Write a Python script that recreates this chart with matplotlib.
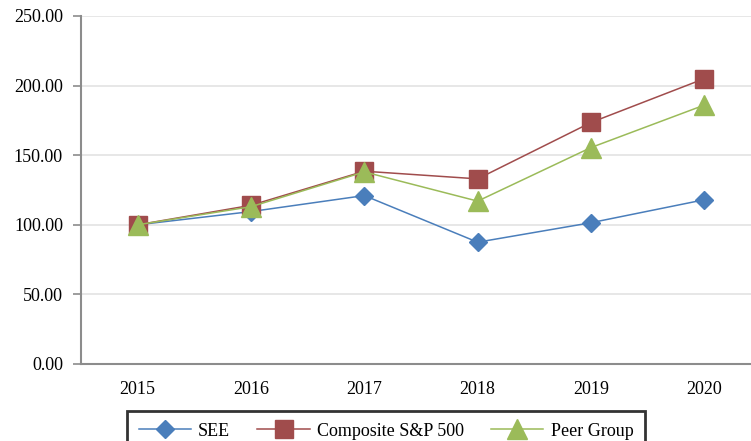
import numpy as np
import matplotlib
matplotlib.use("Agg")
import matplotlib.pyplot as plt

# values
years = ["2015", "2016", "2017", "2018", "2019", "2020"]
see = [100.0, 109.5, 121.0, 87.5, 101.5, 118.0]
sp500 = [100.0, 114.0, 138.5, 133.0, 173.5, 205.0]
peer = [100.0, 113.0, 138.0, 117.0, 155.5, 186.0]
yticks = [0, 50, 100, 150, 200, 250]

plt.rcParams['font.family'] = ['Liberation Serif', 'DejaVu Serif']

fig = plt.figure(figsize=(7.51, 4.41), dpi=100)
# axes runs a bit past the right edge like in the reference
ax = fig.add_axes([81/751, 77/441, 680/751, 348/441])

x = np.arange(len(years))
ax.plot(x, see, color='#4a7ebb', lw=1.1, marker='D', ms=9.5,
        mfc='#4a7ebb', mec='#4a7ebb', label='SEE', zorder=3)
ax.plot(x, sp500, color='#a04c4c', lw=1.1, marker='s', ms=13.5,
        mfc='#a04c4c', mec='#a04c4c', label='Composite S&P 500', zorder=4)
ax.plot(x, peer, color='#9bbb59', lw=1.1, marker='^', ms=14,
        mfc='#9bbb59', mec='#9bbb59', label='Peer Group', zorder=5)

ax.set_xlim(-0.5, 5.5)
ax.set_ylim(0, 250)
ax.set_xticks(x)
ax.set_xticklabels(years)
ax.set_yticks(yticks)
ax.set_yticklabels(['%.2f' % v for v in yticks])

ax.yaxis.grid(True, color='#e3e3e3', lw=1.2)
ax.set_axisbelow(True)
for s in ['top', 'right']:
    ax.spines[s].set_visible(False)
for s in ['left', 'bottom']:
    ax.spines[s].set_color('#8c8c8c')
    ax.spines[s].set_linewidth(1.5)
ax.tick_params(axis='y', length=6, width=1.2, color='#8c8c8c', pad=7, labelsize=13)
ax.tick_params(axis='x', length=0, pad=12, labelsize=13)

leg = fig.legend(loc='upper center', bbox_to_anchor=(386/751, 30/441), ncol=3,
                 fontsize=13, frameon=True, fancybox=False, handlelength=2.9,
                 handletextpad=0.4, columnspacing=1.5, borderpad=0.65,
                 borderaxespad=0)
leg.get_frame().set_edgecolor('black')
leg.get_frame().set_linewidth(2)

fig.savefig('out.png', dpi=100)
